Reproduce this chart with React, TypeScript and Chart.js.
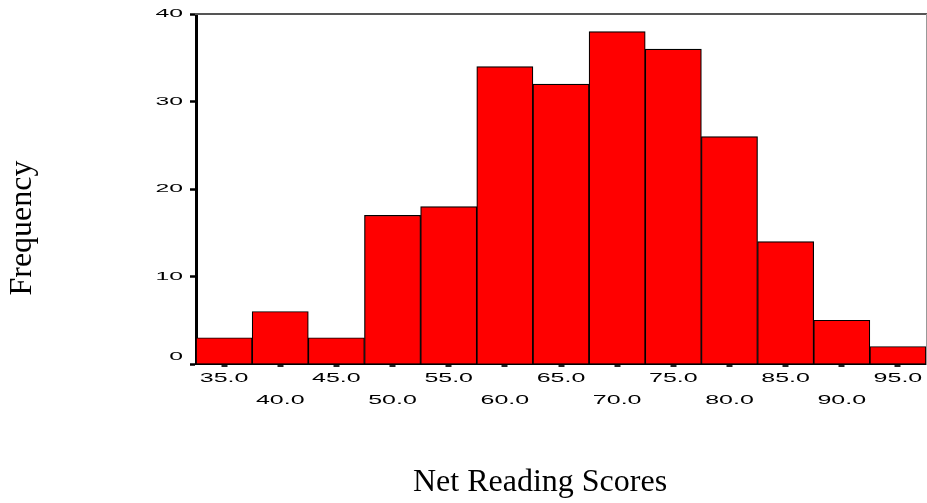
import React, { useEffect, useRef } from 'react';
import { Chart, registerables } from 'chart.js';

Chart.register(...registerables);

// ---- data ----
const categories = [35, 40, 45, 50, 55, 60, 65, 70, 75, 80, 85, 90, 95];
const frequencies = [3, 6, 3, 17, 18, 34, 32, 38, 36, 26, 14, 5, 2];
const yTicks = [0, 10, 20, 30, 40];
const xTitle = 'Net Reading Scores';
const yTitle = 'Frequency';

const SANS = "'Liberation Sans', Arial, sans-serif";
const SERIF = "'Liberation Serif', 'Times New Roman', serif";
const STRETCH_X = 1.85;
const STRETCH_Y = 2.15;

// Tick labels in the reference are horizontally stretched; the labels are drawn
// after the datasets (ticks.z = 1), so widen glyphs only for that stage.
const stretchTickLabels = {
  id: 'stretchTickLabels',
  afterDatasetsDraw(chart: any) {
    const ctx = chart.ctx as any;
    const orig = CanvasRenderingContext2D.prototype.fillText;
    ctx.fillText = function (text: string, x: number, y: number, maxWidth?: number) {
      const s = this.textAlign === 'right' ? STRETCH_Y : STRETCH_X;
      this.save();
      this.translate(x, y);
      this.scale(s, 1);
      if (maxWidth === undefined) orig.call(this, text, 0, 0);
      else orig.call(this, text, 0, 0, maxWidth / s);
      this.restore();
    };
  },
  afterDraw(chart: any) {
    delete (chart.ctx as any).fillText;
  },
};

export default function App() {
  const ref = useRef<HTMLCanvasElement>(null);

  useEffect(() => {
    const chart = new Chart(ref.current as HTMLCanvasElement, {
      type: 'bar',
      data: {
        labels: categories.map((c) => c.toFixed(1)),
        datasets: [
          {
            data: frequencies,
            backgroundColor: '#FF0000',
            borderColor: '#000000',
            borderWidth: 1.2,
            categoryPercentage: 1,
            barPercentage: 1,
          },
        ],
      },
      plugins: [stretchTickLabels],
      options: {
        animation: false,
        responsive: false,
        devicePixelRatio: 1,
        layout: { padding: { left: 0, right: -153, top: -47, bottom: 0 } },
        plugins: {
          legend: { display: false },
          tooltip: { enabled: false },
          title: {
            display: true,
            text: xTitle,
            position: 'bottom',
            color: '#000',
            font: { family: SERIF, size: 32, weight: 'normal', lineHeight: 1.2 },
            padding: { top: 0, bottom: 1 },
          },
          subtitle: {
            display: true,
            text: yTitle,
            position: 'left',
            color: '#000',
            font: { family: SERIF, size: 32, weight: 'normal', lineHeight: 1.2 },
            padding: { top: 3.5, bottom: 0 },
          },
        },
        scales: {
          x: {
            type: 'category',
            position: 'bottom',
            offset: true,
            grid: {
              display: true,
              drawOnChartArea: false,
              drawTicks: true,
              tickLength: 3,
              tickWidth: 6,
              tickColor: '#222',
              offset: false,
            },
            border: { display: true, color: '#000', width: 2 },
            ticks: {
              autoSkip: false,
              maxRotation: 0,
              minRotation: 0,
              padding: 1,
              z: 1,
              color: '#000',
              font: { family: SANS, size: 13.5, lineHeight: 1.59 },
              callback: function (this: any, value: any, index: number) {
                const l = this.getLabelForValue(value);
                return index % 2 === 0 ? l : ['', l];
              },
            },
            afterFit: (s: any) => {
              s.height = 99.6;
            },
          },
          y: {
            type: 'linear',
            position: 'left',
            min: 0,
            max: 40,
            grid: {
              display: true,
              drawOnChartArea: false,
              drawTicks: true,
              tickLength: 6,
              tickWidth: 2.5,
              tickColor: '#000',
            },
            border: { display: true, color: '#000', width: 3 },
            ticks: {
              padding: 7,
              z: 1,
              color: '#000',
              font: { family: SANS, size: 11.5, lineHeight: 1.22 },
              callback: (v: any) => (v === 0 ? ['0', ''] : String(v)),
            },
            afterBuildTicks: (s: any) => {
              s.ticks = yTicks.map((v) => ({ value: v }));
            },
            afterFit: (s: any) => {
              s.width = 154.1;
            },
          },
          x2: {
            type: 'linear',
            position: 'top',
            min: 0,
            max: 1,
            grid: { display: false },
            ticks: { display: false },
            border: { display: true, color: '#555', width: 2 },
            afterFit: (s: any) => {
              s.height = 61;
            },
          },
          y2: {
            type: 'linear',
            position: 'right',
            min: 0,
            max: 1,
            grid: { display: false },
            ticks: { display: false },
            border: { display: true, color: '#999', width: 1 },
            afterFit: (s: any) => {
              s.width = 154;
            },
          },
        },
      } as any,
    });
    return () => chart.destroy();
  }, []);

  return (
    <div style={{ position: 'absolute', left: 0, top: 0, width: 927, height: 503, background: '#fff' }}>
      <canvas ref={ref} width={927} height={503} style={{ display: 'block', width: 927, height: 503 }} />
    </div>
  );
}
